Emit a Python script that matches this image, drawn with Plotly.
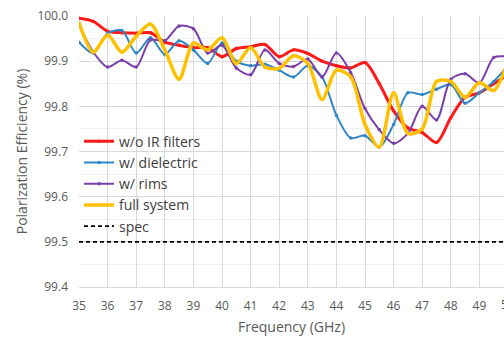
import plotly.graph_objects as go

freq = [35.0, 35.5, 36.0, 36.5, 37.0, 37.5, 38.0, 38.5, 39.0, 39.5, 40.0, 40.5,
        41.0, 41.5, 42.0, 42.5, 43.0, 43.5, 44.0, 44.5, 45.0, 45.5, 46.0, 46.5,
        47.0, 47.5, 48.0, 48.5, 49.0, 49.5, 50.0]

wo_ir = [99.995, 99.988, 99.966, 99.963, 99.962, 99.963, 99.942, 99.935, 99.930, 99.930,
         99.910, 99.928, 99.932, 99.937, 99.910, 99.925, 99.917, 99.900, 99.890, 99.885,
         99.897, 99.850, 99.790, 99.752, 99.742, 99.720, 99.775, 99.820, 99.830, 99.850, 99.870]

dielectric = [99.942, 99.918, 99.962, 99.968, 99.918, 99.952, 99.915, 99.945, 99.925, 99.895,
              99.940, 99.900, 99.890, 99.893, 99.880, 99.865, 99.890, 99.865, 99.780, 99.730,
              99.735, 99.710, 99.760, 99.830, 99.826, 99.838, 99.848, 99.807, 99.830, 99.855, 99.890]

rims = [99.980, 99.920, 99.887, 99.902, 99.887, 99.947, 99.945, 99.978, 99.972, 99.918,
        99.935, 99.885, 99.870, 99.925, 99.895, 99.888, 99.905, 99.865, 99.918, 99.875,
        99.795, 99.748, 99.718, 99.740, 99.800, 99.770, 99.860, 99.872, 99.852, 99.908, 99.910]

full_system = [99.985, 99.920, 99.958, 99.920, 99.955, 99.982, 99.925, 99.860, 99.940, 99.925,
               99.952, 99.895, 99.930, 99.887, 99.884, 99.912, 99.895, 99.815, 99.880, 99.865,
               99.760, 99.710, 99.830, 99.740, 99.750, 99.855, 99.855, 99.820, 99.853, 99.835, 99.900]

spec = [99.5] * len(freq)

series_names = ["w/o IR filters", "w/ dielectric", "w/ rims", "full system"]
series_values = [wo_ir, dielectric, rims, full_system]
series_colors = ["#ff1a1a", "#2e86c8", "#7a3fa8", "#ffc000"]
series_widths = [3, 2, 2, 3.5]

y_ticks = [99.4, 99.5, 99.6, 99.7, 99.8, 99.9, 100.0]
x_ticks = list(range(35, 50))

FONT = "Open Sans"
GRAY = "#595959"

fig = go.Figure()
for name, vals, col, w in zip(series_names, series_values, series_colors, series_widths):
    fig.add_trace(go.Scatter(
        x=freq, y=vals, name=name, mode="lines+markers",
        line=dict(color=col, width=w, shape="spline", smoothing=0.8),
        marker=dict(color=col, size=3.5),
    ))

fig.add_trace(go.Scatter(
    x=freq, y=spec, name="spec", mode="lines",
    line=dict(color="#000000", width=1.8, dash="4px,3px"),
))

x_max = 35 + (504 - 79) / 28.6

fig.update_layout(
    width=504, height=338,
    margin=dict(l=79, r=0, t=16, b=51),
    paper_bgcolor="white", plot_bgcolor="white",
    font=dict(family=FONT, color=GRAY, size=12),
    showlegend=True,
    legend=dict(
        x=0.0, y=0.595, xanchor="left", yanchor="top",
        bgcolor="rgba(255,255,255,0)",
        font=dict(family=FONT, size=14, color="#404040"),
        tracegroupgap=0, itemwidth=30,
    ),
    xaxis=dict(
        range=[35, x_max], tickvals=x_ticks, ticktext=[str(t) for t in x_ticks],
        showgrid=True, gridcolor="#d9d9d9", gridwidth=1,
        zeroline=False, showline=True, linecolor="#d9d9d9",
        tickfont=dict(size=12, color=GRAY), ticks="", ticklabelstandoff=8,
        title=dict(text="Frequency (GHz)", font=dict(size=14, color=GRAY), standoff=8),
    ),
    yaxis=dict(
        range=[99.4, 100.0], tickvals=y_ticks, tickformat=".1f",
        showgrid=True, gridcolor="#d9d9d9", gridwidth=1,
        minor=dict(dtick=0.05, showgrid=True, gridcolor="#efefef", gridwidth=1),
        zeroline=False, showline=False,
        tickfont=dict(size=12, color=GRAY), ticks="", ticklabelstandoff=10,
        title=dict(text="Polarization Efficiency (%)", font=dict(size=14, color=GRAY), standoff=6),
    ),
)

fig.add_annotation(
    x=(50 - 35) / (x_max - 35), xref="paper", y=-0.064, yref="paper",
    text="50", showarrow=False, xanchor="center", yanchor="middle",
    font=dict(size=12, color=GRAY, family=FONT),
)

fig.write_html("out.html")
